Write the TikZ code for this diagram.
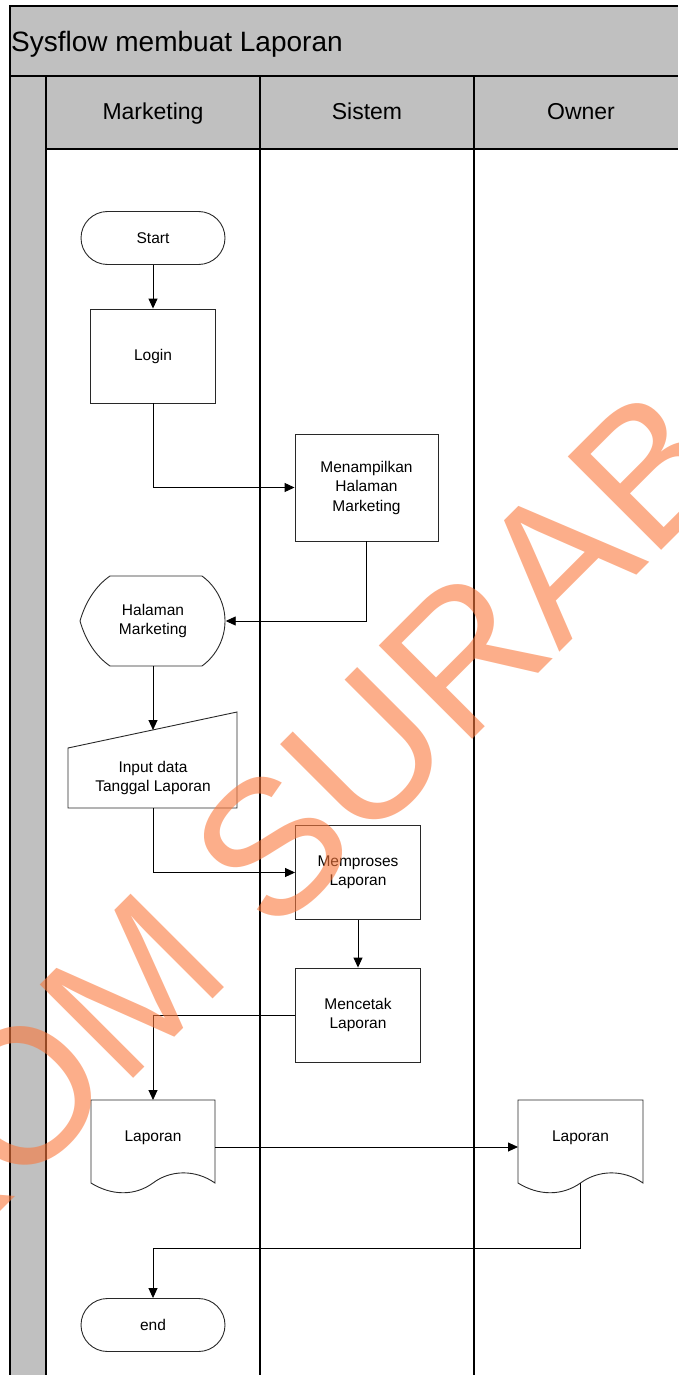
\documentclass[tikz,border=0pt]{standalone}
\usepackage{fontspec}
\setmainfont{Liberation Sans}
\usetikzlibrary{arrows.meta}
\definecolor{lanegray}{RGB}{192,192,192}
\definecolor{wmark}{RGB}{250,120,60}
\definecolor{edge}{RGB}{40,40,40}
\begin{document}
\begin{tikzpicture}[x=1pt,y=-1pt,
  lane/.style={draw=black, line width=1.2pt},
  shp/.style={draw=edge, line width=0.9pt, fill=white},
  nodetext/.style={font=\fontsize{15.5}{19.5}\selectfont, align=center, inner sep=0pt},
  proc/.style={shp, nodetext, minimum width=125pt, minimum height=94pt},
  term/.style={shp, nodetext, minimum width=144pt, minimum height=53pt, rounded corners=26.5pt},
  lanehead/.style={font=\fontsize{23}{26}\selectfont, anchor=base, inner sep=0pt},
  arr/.style={draw=black, line width=0.9pt, -{Triangle[length=10pt,width=9pt]}},
  conn/.style={draw=black, line width=0.9pt}]
\useasboundingbox (0,0) rectangle (678,1375);
% swimlane frame
\fill[lanegray] (10,6) rectangle (678,149);
\fill[lanegray] (10,149) rectangle (46,1375);
\draw[lane] (678,6) -- (10,6) -- (10,1375);
\draw[lane] (10,76) -- (678,76);
\draw[lane] (46,149) -- (678,149);
\draw[lane] (46,76) -- (46,1375);
\draw[lane] (260,76) -- (260,1375);
\draw[lane] (474,76) -- (474,1375);
\node[anchor=base west, inner sep=0pt, font=\fontsize{28}{30}\selectfont] (title) at (11,52) {Sysflow membuat Laporan};
\node[lanehead] (hmkt) at (153,120) {Marketing};
\node[lanehead] (hsis) at (367,120) {Sistem};
\node[lanehead] (hown) at (581,120) {Owner};
% nodes
\node[term] (start) at (153,238) {Start};
\node[proc] (login) at (153,356) {Login};
\node[proc, minimum width=143pt, minimum height=107pt] (tampil) at (366.5,487.5) {Menampilkan\\Halaman\\Marketing};
% display shape
\draw[shp] (80,621) .. controls (86,600) and (97,585) .. (110,576) -- (202,576)
  .. controls (217,587) and (225,604) .. (225,621)
  .. controls (225,638) and (217,655) .. (202,666) -- (110,666)
  .. controls (97,657) and (86,642) .. (80,621) -- cycle;
\node[nodetext, minimum width=145pt, minimum height=90pt] (hal) at (153,621) {Halaman\\Marketing};
% manual input
\draw[shp] (68,748) -- (237,712) -- (237,808) -- (68,808) -- cycle;
\node[nodetext] (input) at (153,778) {Input data\\Tanggal Laporan};
\coordinate (intop) at (153,730);
\coordinate (inbot) at (153,808);
\node[proc] (proses) at (358,872.5) {Memproses\\Laporan};
\node[proc] (cetak) at (358,1015) {Mencetak\\Laporan};
% documents
\draw[shp] (91,1100) -- (215,1100) -- (215,1183)
  .. controls (195,1169) and (170,1170) .. (153,1183)
  .. controls (135,1196) and (112,1196) .. (91,1183) -- cycle;
\node[nodetext, anchor=base] (lap1) at (153,1141) {Laporan};
\coordinate (lap1top) at (153,1100);
\coordinate (lap1right) at (215,1147);
\draw[shp] (518,1100) -- (643,1100) -- (643,1183)
  .. controls (623,1169) and (598,1170) .. (580.5,1183)
  .. controls (562,1196) and (539,1196) .. (518,1183) -- cycle;
\node[nodetext, anchor=base] (lap2) at (580.5,1141) {Laporan};
\coordinate (lap2left) at (518,1147);
\coordinate (lap2bot) at (580.5,1183);
\coordinate (turn) at (580.5,1248);
\node[term] (end) at (153,1325) {end};
% connectors
\draw[arr] (start) -- (login);
\draw[arr] (login.south) |- (tampil.west);
\draw[arr] (tampil.south) |- (hal.east);
\draw[arr] (hal.south) -- (intop);
\draw[arr] (inbot) |- (proses.west);
\draw[arr] (proses) -- (cetak);
\draw[arr] (cetak.west) -| (lap1top);
\draw[arr] (lap1right) -- (lap2left);
\draw[arr] (lap2bot) -- (turn) -| (end.north);
% watermark
\begin{scope}
\clip (0,0) rectangle (678,1375);
\node[anchor=base west, rotate=45, inner sep=0pt, text=wmark, text opacity=0.6,
  font=\fontsize{192}{200}\selectfont] (wm) at (-285,1497) {STIKOM SURABAYA};
\end{scope}
\end{tikzpicture}
\end{document}
